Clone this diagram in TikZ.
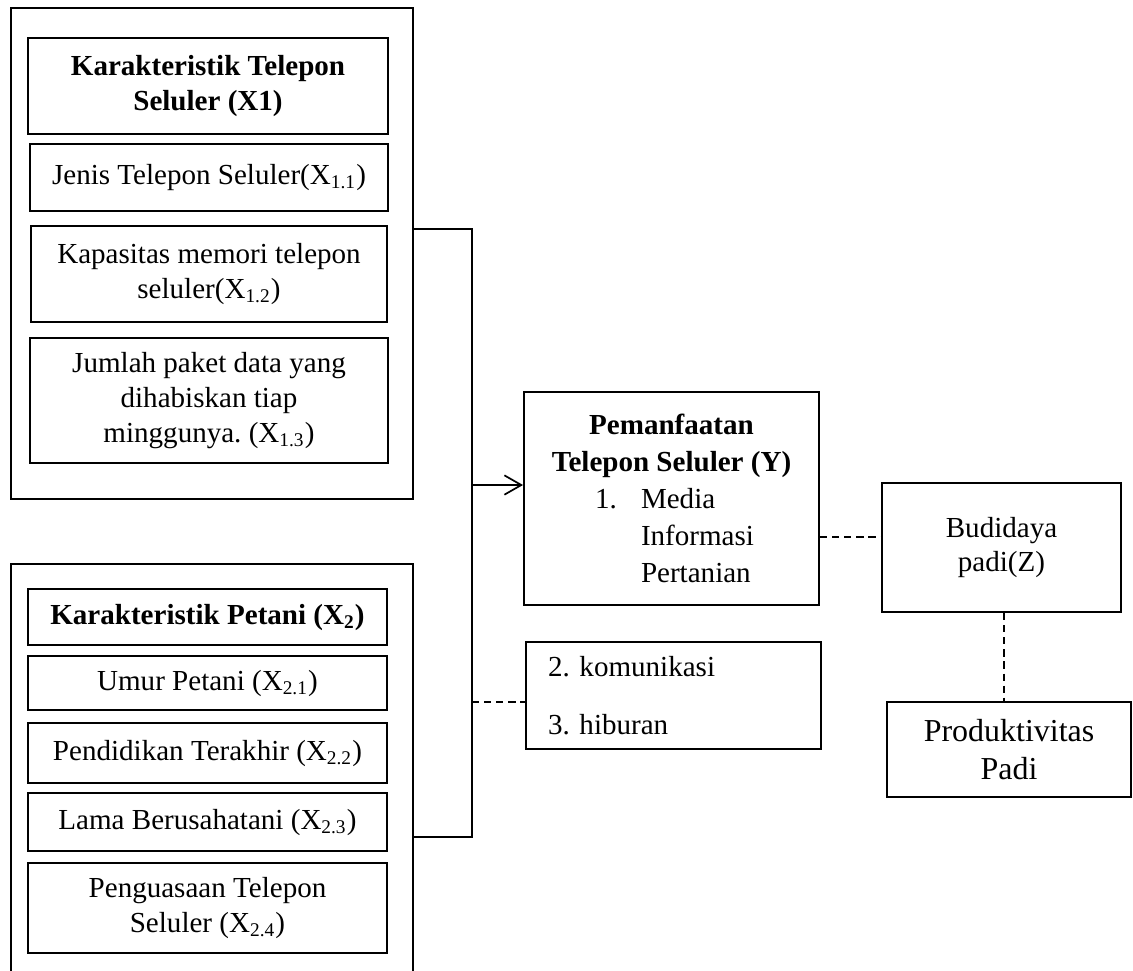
\documentclass[tikz,border=0pt]{standalone}
\usepackage{fontspec}
\setmainfont{Liberation Serif}
\usetikzlibrary{arrows.meta}
\newlength\pxu
\setlength\pxu{0.413pt}
\frenchspacing

\begin{document}
\begin{tikzpicture}[x=\pxu, y=-\pxu]
    \tikzstyle{box}=[draw, line width=0.8pt, inner sep=0pt, align=center, font=\fontsize{12}{14.5}\selectfont]
    \tikzstyle{group}=[draw, line width=0.8pt, inner sep=0pt, minimum width=402\pxu]
    \tikzstyle{link}=[line width=0.7pt]
    \tikzstyle{dlink}=[line width=0.7pt, dash pattern=on 3pt off 2pt]
    \useasboundingbox (0,0) rectangle (1133,970);
    \clip (0,0) rectangle (1133,970);

    \node[group, minimum height=491\pxu] (grpA) at (212,253.5) {};
    \node[box, minimum width=360\pxu, minimum height=96\pxu] (a0) at (208,86) {\textbf{Karakteristik Telepon}\\\textbf{Seluler (X1)}};
    \node[box, minimum width=358\pxu, minimum height=67\pxu] (a1) at (209,177.5) {Jenis Telepon Seluler(X\textsubscript{1.1})};
    \node[box, minimum width=356\pxu, minimum height=96\pxu] (a2) at (209,274) {Kapasitas memori telepon\\seluler(X\textsubscript{1.2})};
    \node[box, minimum width=358\pxu, minimum height=125\pxu] (a3) at (209,400.5) {Jumlah paket data yang\\dihabiskan tiap\\minggunya. (X\textsubscript{1.3})};

    \node[group, minimum height=426\pxu] (grpB) at (212,777) {};
    \node[box, minimum width=359\pxu, minimum height=56\pxu] (b0) at (207.5,617) {\textbf{Karakteristik Petani (X\textsubscript{2})}};
    \node[box, minimum width=359\pxu, minimum height=54\pxu] (b1) at (207.5,683) {Umur Petani (X\textsubscript{2.1})};
    \node[box, minimum width=359\pxu, minimum height=60\pxu] (b2) at (207.5,753) {Pendidikan Terakhir (X\textsubscript{2.2})};
    \node[box, minimum width=359\pxu, minimum height=58\pxu] (b3) at (207.5,822) {Lama Berusahatani (X\textsubscript{2.3})};
    \node[box, minimum width=359\pxu, minimum height=90\pxu] (b4) at (207.5,908) {Penguasaan Telepon\\Seluler (X\textsubscript{2.4})};

    \node[box, minimum width=295\pxu, minimum height=213\pxu, font=\fontsize{12}{15.3}\selectfont] (use) at (671.5,498.5)
      {\textbf{Pemanfaatan}\\\textbf{Telepon Seluler (Y)}\\
       \makebox[295\pxu][l]{\hspace*{71\pxu}\makebox[46\pxu][l]{1.}Media}\\
       \makebox[295\pxu][l]{\hspace*{117\pxu}Informasi}\\
       \makebox[295\pxu][l]{\hspace*{117\pxu}Pertanian}};
    \node[box, align=left, text width=251\pxu, minimum width=295\pxu, minimum height=107\pxu, font=\fontsize{12}{24}\selectfont] (kom) at (673.5,695.5) {2. komunikasi\\3. hiburan};
    \node[box, minimum width=239\pxu, minimum height=129\pxu, font=\fontsize{12}{13.8}\selectfont] (budi) at (1001.5,547.5) {Budidaya\\padi(Z)};
    \node[box, minimum width=244\pxu, minimum height=95\pxu, font=\fontsize{13.2}{16}\selectfont] (prod) at (1009,749.5) {Produktivitas\\Padi};

    \coordinate (tTop) at (472,229);
    \coordinate (tBot) at (472,837);
    \coordinate (tArr) at (472,485);
    \coordinate (tDash) at (472,702);
    \draw[link] (grpA.east |- tTop) -- (tTop) -- (tBot) -- (grpB.east |- tBot);
    \draw[link, -{Straight Barb[length=7pt, width=8pt]}] (tArr) -- (tArr -| use.west);
    \draw[dlink] (tDash) -- (tDash -| kom.west);
    \draw[dlink] (use.east |- 0,537) -- (budi.west |- 0,537);
    \draw[dlink] (budi.south -| 1004,0) -- (prod.north -| 1004,0);
\end{tikzpicture}
\end{document}
